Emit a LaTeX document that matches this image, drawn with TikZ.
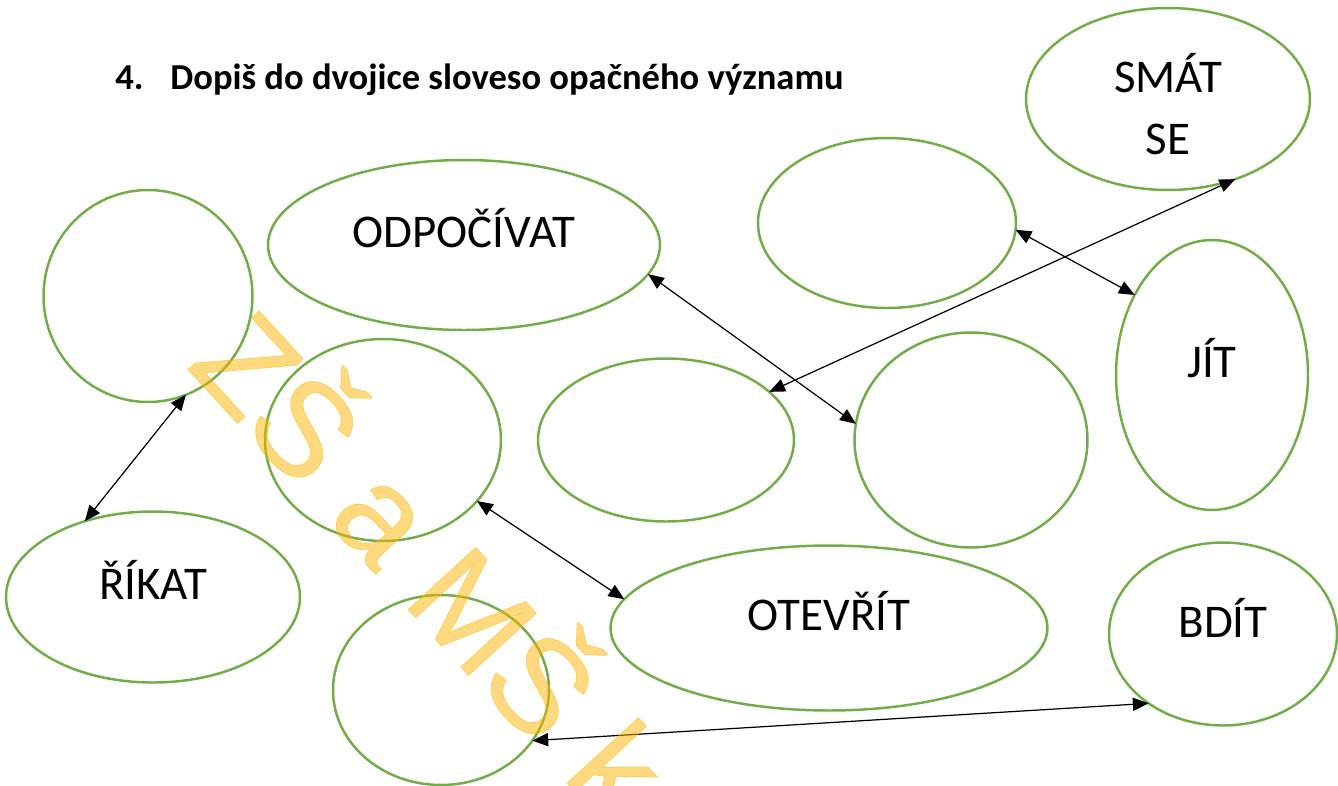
\documentclass[tikz,border=0pt]{standalone}
\usepackage{fontspec}
\usepackage{tikz}
\usetikzlibrary{positioning, calc}
\usetikzlibrary{arrows.meta}
\usetikzlibrary{shapes.geometric}
\newfontfamily\labelfont{Carlito}
\newfontfamily\titlefont{Carlito}
\newfontfamily\markfont{Liberation Sans}[FakeBold=0.6]
\definecolor{ovalgreen}{RGB}{112,173,71}
\definecolor{markgold}{RGB}{255,180,0}
\tikzstyle{ovalbox}=[ellipse,draw=ovalgreen,line width=1.4pt,inner sep=0pt,
outer sep=0pt,font=\labelfont\fontsize{26.7}{35}\selectfont,
text height=17.2pt,text depth=13.8pt]
\tikzstyle{titlebox}=[inner sep=0pt,font=\titlefont\bfseries\fontsize{20.8}{24}\selectfont]
\tikzstyle{pairpath} = [{Triangle[length=9pt,width=7.5pt]}-{Triangle[length=9pt,width=7.5pt]},
line width=0.7pt]

\begin{document}
\begin{tikzpicture}[x=0.02cm,y=-0.02cm]
    \useasboundingbox (0,0) rectangle (1338,785);
    \node[titlebox, anchor=base west] (num) at (115,89) {4.};
    \node[titlebox, anchor=base west] (title) at (170,89) {Dopiš do dvojice sloveso opačného významu};

    \node[ovalbox, minimum width=5.68cm, minimum height=3.64cm, align=center,
          text height=, text depth=] (smat) at (1168,99) {\rule{0pt}{28pt}SMÁT\\SE};
    \node[ovalbox, minimum width=5.16cm, minimum height=3.40cm] (b2) at (887,223) {};
    \node[ovalbox, minimum width=7.84cm, minimum height=3.40cm] (odpocivat) at (464,245) {ODPOČÍVAT};
    \node[ovalbox, minimum width=4.18cm, minimum height=4.24cm] (b1) at (148,296) {};
    \node[ovalbox, minimum width=3.84cm, minimum height=5.40cm] (jit) at (1212,375) {JÍT};
    \node[ovalbox, minimum width=4.72cm, minimum height=4.04cm] (b3) at (383,440) {};
    \node[ovalbox, minimum width=5.12cm, minimum height=3.26cm] (b4) at (666,440) {};
    \node[ovalbox, minimum width=4.66cm, minimum height=4.30cm] (b5) at (971,440) {};
    \node[ovalbox, minimum width=5.88cm, minimum height=3.42cm] (rikat) at (153,597) {ŘÍKAT};
    \node[ovalbox, minimum width=8.74cm, minimum height=3.30cm] (otevrit) at (829,628) {OTEVŘÍT};
    \node[ovalbox, minimum width=4.56cm, minimum height=3.66cm] (bdit) at (1223,634) {BDÍT};
    \node[ovalbox, minimum width=4.32cm, minimum height=3.80cm] (b6) at (441,690) {};

    \draw[pairpath] (b1.-69) -- (rikat.132);
    \draw[pairpath] (odpocivat.-9) -- (b5.172);
    \draw[pairpath] (b2.-3) -- (jit.134);
    \draw[pairpath] (smat.-50) -- (b4.25);
    \draw[pairpath] (b3.-33) -- (otevrit.172);
    \draw[pairpath] (b6.-29) -- (bdit.223);

    % watermark
    \begin{scope}
    \clip (0,0) rectangle (1338,785);
    \node[anchor=base west, inner sep=0pt, rotate=-47.5, text=markgold, text opacity=0.5,
          font=\markfont\fontsize{76}{80}\selectfont] (mark) at (185,366) {ZŠ a MŠ k};
    \end{scope}
\end{tikzpicture}
\end{document}
